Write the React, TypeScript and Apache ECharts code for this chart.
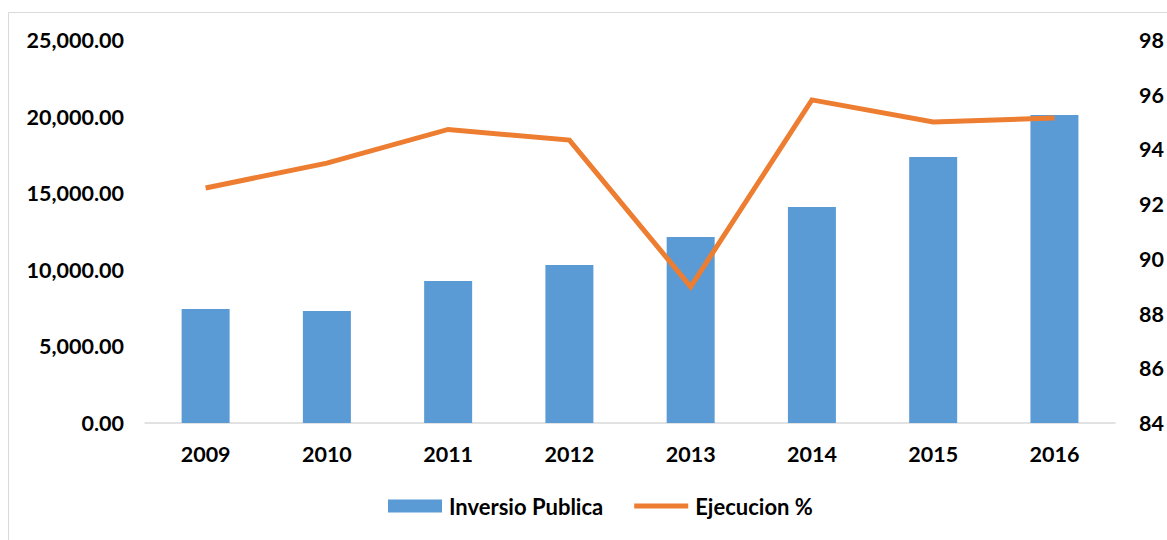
import React, { useEffect, useRef } from "react";
import * as echarts from "echarts";

const categories = ["2009", "2010", "2011", "2012", "2013", "2014", "2015", "2016"];
const inversionPublica = [7440, 7310, 9270, 10310, 12140, 14100, 17360, 20100];
const ejecucion = [92.59, 93.5, 94.73, 94.34, 88.98, 95.81, 95.0, 95.15];

const FONT = "Lato";

function fmt(v: number): string {
  const [i, d] = v.toFixed(2).split(".");
  return i.replace(/\B(?=(\d{3})+(?!\d))/g, ",") + "." + d;
}

export default function App() {
  const ref = useRef<HTMLDivElement>(null);
  useEffect(() => {
    if (!ref.current) return;
    const chart = echarts.init(ref.current, null, { renderer: "svg" });
    const labelStyle = { fontFamily: FONT, fontWeight: "bold", fontSize: 21.5, color: "#000" };
    chart.setOption({
      animation: false,
      backgroundColor: "#ffffff",
      textStyle: { fontFamily: FONT },
      graphic: [
        {
          type: "rect",
          shape: { x: 8.5, y: 12.5, width: 1400, height: 800 },
          style: { fill: "none", stroke: "#d9d9d9", lineWidth: 1 },
          silent: true,
        },
      ],
      grid: { left: 145, right: 50, top: 40, bottom: 117 },
      legend: {
        left: 388,
        top: 495,
        padding: 0,
        itemWidth: 54,
        itemHeight: 13,
        itemGap: 31,
        textStyle: { ...labelStyle, fontSize: 22, padding: [0, 0, 0, 2] },
        data: [
          { name: "Inversio Publica", icon: "rect" },
          { name: "Ejecucion %", icon: "path://M0,0H100V9H0Z" },
        ],
      },
      xAxis: {
        type: "category",
        data: categories,
        axisLine: { lineStyle: { color: "#d9d9d9", width: 1.5 } },
        axisTick: { show: false },
        axisLabel: { ...labelStyle, margin: 20 },
      },
      yAxis: [
        {
          type: "value",
          min: 0,
          max: 25000,
          interval: 5000,
          splitLine: { show: false },
          axisLine: { show: false },
          axisTick: { show: false },
          axisLabel: { ...labelStyle, margin: 21, formatter: (v: number) => fmt(v) },
        },
        {
          type: "value",
          min: 84,
          max: 98,
          interval: 2,
          position: "right",
          splitLine: { show: false },
          axisLine: { show: false },
          axisTick: { show: false },
          axisLabel: { ...labelStyle, margin: 24 },
        },
      ],
      series: [
        {
          name: "Inversio Publica",
          type: "bar",
          data: inversionPublica,
          barWidth: 48,
          itemStyle: { color: "#5B9BD5" },
        },
        {
          name: "Ejecucion %",
          type: "line",
          yAxisIndex: 1,
          data: ejecucion,
          symbol: "none",
          showSymbol: false,
          lineStyle: { color: "#ED7D31", width: 5, join: "miter" },
          itemStyle: { color: "#ED7D31" },
        },
      ],
    });
    return () => chart.dispose();
  }, []);
  return (
    <div
      ref={ref}
      style={{ position: "absolute", left: 0, top: 0, width: 1167, height: 540 }}
    />
  );
}
